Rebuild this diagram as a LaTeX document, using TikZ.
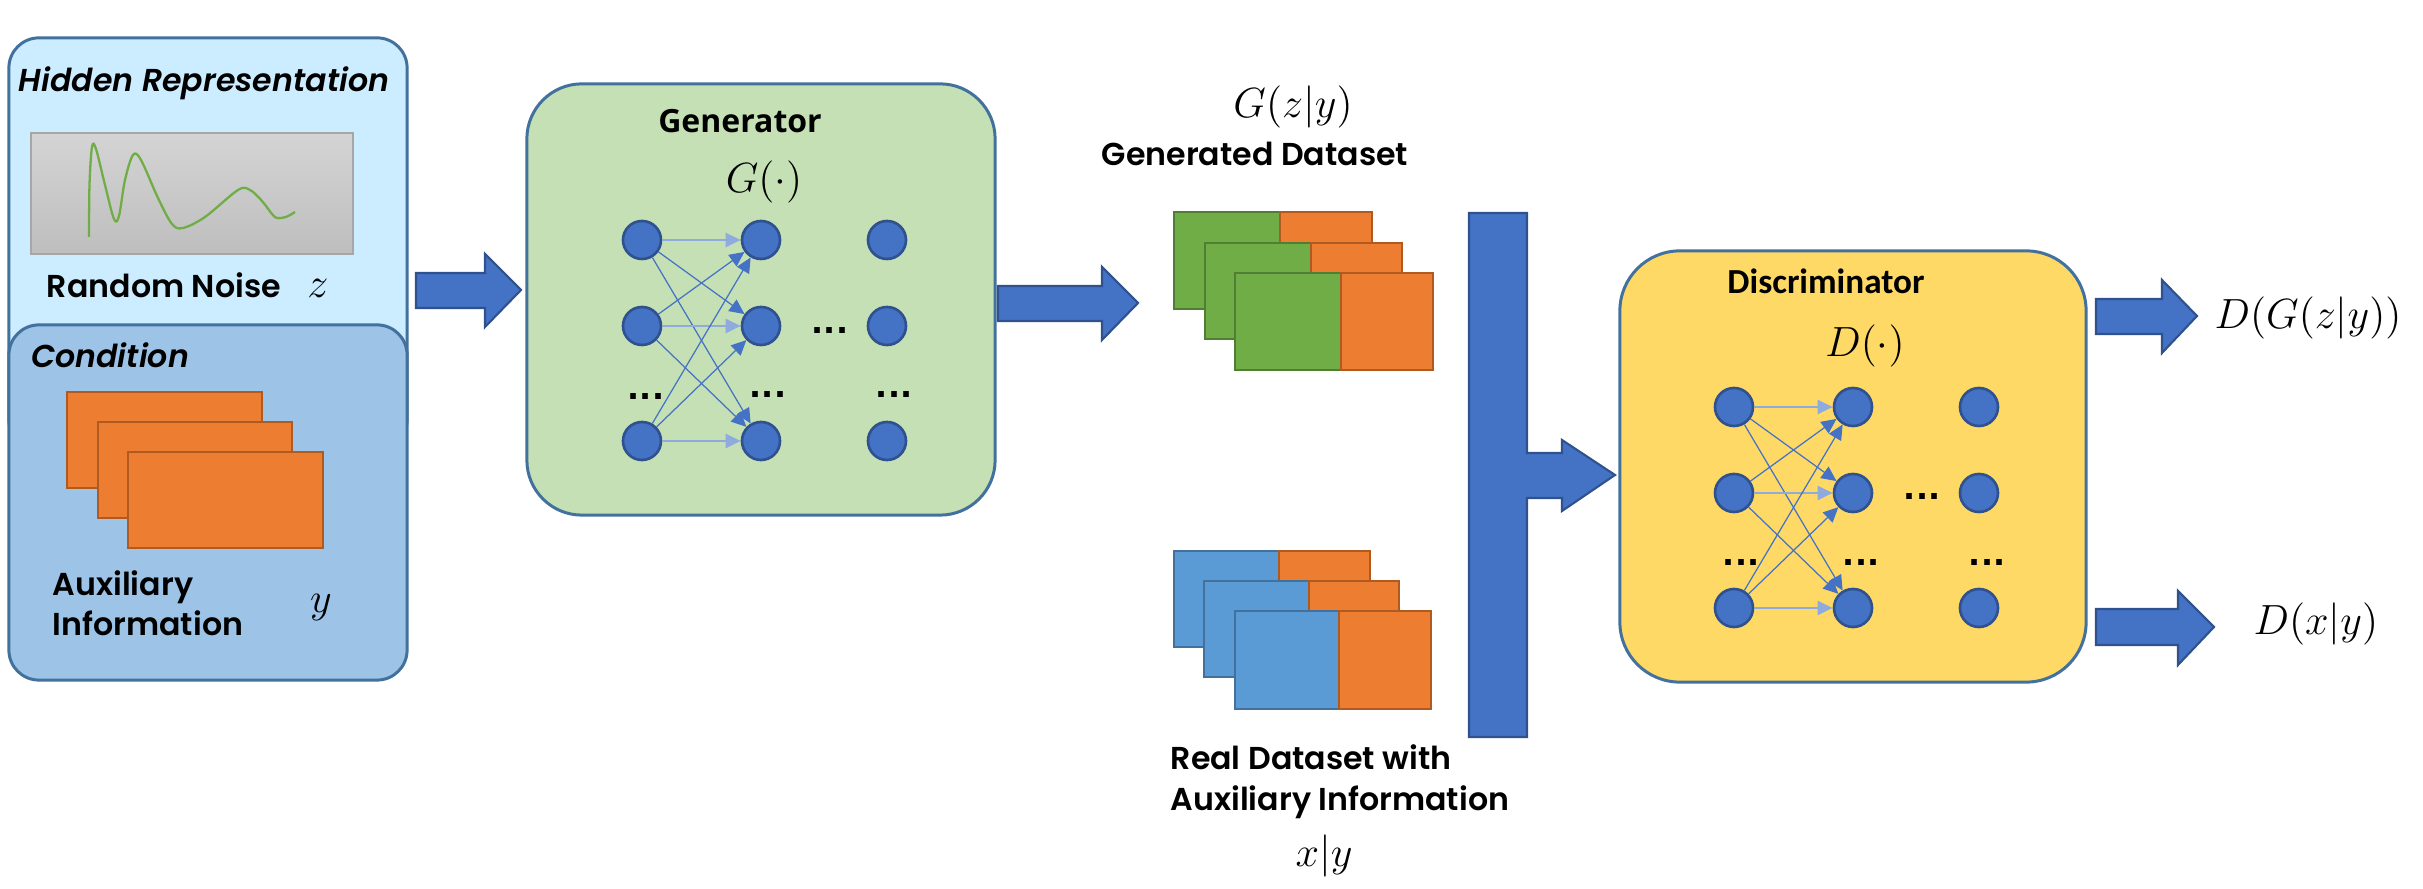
\documentclass[tikz,border=0pt]{standalone}
\usepackage{fontspec}
\usetikzlibrary{arrows.meta}
\newfontfamily\widefont{Poppins}[BoldFont={Poppins SemiBold}, BoldItalicFont={Poppins SemiBold Italic}]
\newfontfamily\opensfont{Open Sans}
\newfontfamily\carlfont{Carlito}
\newfontfamily\dotfont{DejaVu Sans}
\definecolor{hiddenfill}{HTML}{CCECFF}
\definecolor{condfill}{HTML}{9DC3E6}
\definecolor{boxline}{HTML}{41719C}
\definecolor{genfill}{HTML}{C5E0B4}
\definecolor{discfill}{HTML}{FFD966}
\definecolor{arrowfill}{HTML}{4472C4}
\definecolor{arrowline}{HTML}{2F528F}
\definecolor{orangefill}{HTML}{ED7D31}
\definecolor{orangeline}{HTML}{AE5A21}
\definecolor{greenfill}{HTML}{70AD47}
\definecolor{greenline}{HTML}{507E32}
\definecolor{bluefill}{HTML}{5B9BD5}
\definecolor{flatlink}{HTML}{8FAADC}
\tikzset{
  panel/.style={draw=boxline, line width=0.85pt, inner sep=0pt},
  neuron/.style={circle, minimum size=0.38cm, inner sep=0pt, fill=arrowfill, draw=arrowline, line width=0.75pt},
  link/.style={draw=arrowfill, line width=0.35pt, -{Triangle[length=0.15cm,width=0.14cm]}},
  linkflat/.style={draw=flatlink, line width=0.7pt},
  blockarrow/.style={fill=arrowfill, draw=arrowline, line width=0.6pt},
  orangebox/.style={fill=orangefill, draw=orangeline, line width=0.6pt},
  greenbox/.style={fill=greenfill, draw=greenline, line width=0.6pt},
  bluebox/.style={fill=bluefill, draw=boxline, line width=0.6pt},
  wlabel/.style={inner sep=0pt, anchor=base, font=\widefont\bfseries\fontsize{9}{11}\selectfont},
  ilabel/.style={inner sep=0pt, anchor=base, font=\widefont\bfseries\itshape\fontsize{9}{11}\selectfont},
  mlabel/.style={inner sep=0pt, anchor=base, font=\fontsize{11.5}{13}\selectfont},
  biglabel/.style={mlabel, font=\fontsize{12.5}{14}\selectfont},
  dots/.style={inner sep=0pt, font=\dotfont\bfseries\fontsize{9}{10}\selectfont}
}
\begin{document}
\begin{tikzpicture}[x=0.01cm, y=-0.01cm]
\useasboundingbox (0,0) rectangle (2423,889);
\node[panel, fill=hiddenfill, rounded corners=0.3cm, minimum width=3.98cm, minimum height=4.12cm] (hidden) at (208,244){};
\node[panel, fill=condfill, rounded corners=0.3cm, minimum width=3.98cm, minimum height=3.55cm] (cond) at (208,502.5){};
\node[ilabel] (hidtxt) at (204,92){Hidden Representation};
\node[draw={rgb,255:red,166;green,166;blue,166}, line width=0.5pt, top color={rgb,255:red,212;green,212;blue,212}, bottom color={rgb,255:red,190;green,190;blue,190}, minimum width=3.22cm, minimum height=1.21cm, inner sep=0pt] (noise) at (192,193.5){};
\draw[draw=greenfill, line width=0.65pt] plot[smooth, tension=0.55] coordinates {(89,237) (89.5,185) (92,147) (96,149) (105,185) (114,219) (119,216) (125,180) (133,155) (141,160) (158,198) (172,224) (183,228) (205,217) (238,190) (250,190) (262,201) (272,214) (277,218) (286,217) (295,212)};
\node[wlabel] (noisetxt) at (164,298){Random Noise};
\node[biglabel] (ztxt) at (318,298){$z$};
\node[ilabel] (condtxt) at (110,368){Condition};
\draw[orangebox] (67,392) rectangle (262,488);
\draw[orangebox] (98,422) rectangle (292,518);
\draw[orangebox] (128,452) rectangle (323,548);
\node[wlabel, anchor=base west] (auxtxt) at (52,596){Auxiliary};
\node[wlabel, anchor=base west] (infotxt) at (52,636){Information};
\node[biglabel] (ytxt) at (321,613){$y$};
\draw[blockarrow] (416,273) -- (485,273) -- (485,254) -- (521,290) -- (485,327) -- (485,308) -- (416,308) -- cycle;
\node[panel, fill=genfill, rounded corners=0.55cm, minimum width=4.68cm, minimum height=4.31cm] (gen) at (761,299.5){};
\node[inner sep=0pt, anchor=base, font=\opensfont\bfseries\fontsize{9.1}{11}\selectfont] (gentxt) at (740,133){Generator};
\node[mlabel] (gfun) at (764,193){$G(\cdot)$};
\node[neuron] (g11) at (642,240){};
\node[neuron] (g12) at (642,326){};
\node[neuron] (g13) at (642,441){};
\node[neuron] (g21) at (761,240){};
\node[neuron] (g22) at (761,326){};
\node[neuron] (g23) at (761,441){};
\node[neuron] (g31) at (887,240){};
\node[neuron] (g32) at (887,326){};
\node[neuron] (g33) at (887,441){};
\draw[link, linkflat](g11) -- (g21);
\draw[link](g11) -- (g22);
\draw[link](g11) -- (g23);
\draw[link](g12) -- (g21);
\draw[link, linkflat](g12) -- (g22);
\draw[link](g12) -- (g23);
\draw[link](g13) -- (g21);
\draw[link](g13) -- (g22);
\draw[link, linkflat](g13) -- (g23);
\node[dots] (gd1) at (646,397){...};
\node[dots] (gd2) at (768,395){...};
\node[dots] (gd3) at (894,395){...};
\node[dots] (gd4) at (830,331){...};
\draw[blockarrow] (998,286) -- (1102,286) -- (1102,267) -- (1138,303) -- (1102,340) -- (1102,321) -- (998,321) -- cycle;
\node[biglabel] (gzy) at (1293,118){$G(z|y)$};
\node[wlabel] (gentxt2) at (1255,166){Generated Dataset};
\draw[greenbox] (1174,212) rectangle (1280,309);
\draw[orangebox] (1280,212) rectangle (1372,309);
\draw[greenbox] (1205,243) rectangle (1311,339);
\draw[orangebox] (1311,243) rectangle (1402,339);
\draw[greenbox] (1235,273) rectangle (1341,370);
\draw[orangebox] (1341,273) rectangle (1433,370);
\draw[bluebox] (1174,551) rectangle (1279,647);
\draw[orangebox] (1279,551) rectangle (1370,647);
\draw[bluebox] (1204,581) rectangle (1309,677);
\draw[orangebox] (1309,581) rectangle (1399,677);
\draw[bluebox] (1235,611) rectangle (1339,709);
\draw[orangebox] (1339,611) rectangle (1431,709);
\node[wlabel, anchor=base west] (realtxt) at (1170,770){Real Dataset with};
\node[wlabel, anchor=base west] (realtxt2) at (1170,811){Auxiliary Information};
\node[biglabel] (xy) at (1324,867){$x|y$};
\draw[blockarrow] (1469,213) -- (1527,213) -- (1527,453) -- (1562,453) -- (1562,440) -- (1615,475) -- (1562,511) -- (1562,498) -- (1527,498) -- (1527,737) -- (1469,737) -- cycle;
\node[panel, fill=discfill, rounded corners=0.6cm, minimum width=4.66cm, minimum height=4.31cm] (disc) at (1853,466.5){};
\node[inner sep=0pt, anchor=base, font=\carlfont\bfseries\fontsize{10}{12}\selectfont] (disctxt) at (1826,294){Discriminator};
\node[mlabel] (dfun) at (1865,357){$D(\cdot)$};
\node[neuron] (d11) at (1734,407){};
\node[neuron] (d12) at (1734,493){};
\node[neuron] (d13) at (1734,608){};
\node[neuron] (d21) at (1853,407){};
\node[neuron] (d22) at (1853,493){};
\node[neuron] (d23) at (1853,608){};
\node[neuron] (d31) at (1979,407){};
\node[neuron] (d32) at (1979,493){};
\node[neuron] (d33) at (1979,608){};
\draw[link, linkflat](d11) -- (d21);
\draw[link](d11) -- (d22);
\draw[link](d11) -- (d23);
\draw[link](d12) -- (d21);
\draw[link, linkflat](d12) -- (d22);
\draw[link](d12) -- (d23);
\draw[link](d13) -- (d21);
\draw[link](d13) -- (d22);
\draw[link, linkflat](d13) -- (d23);
\node[dots] (dd1) at (1741,563){...};
\node[dots] (dd2) at (1861,563){...};
\node[dots] (dd3) at (1987,563){...};
\node[dots] (dd4) at (1922,497){...};
\draw[blockarrow] (2096,299) -- (2162,299) -- (2162,280) -- (2197,316) -- (2162,353) -- (2162,334) -- (2096,334) -- cycle;
\node[biglabel, anchor=base west] (dgzy) at (2214,329){$D(G(z|y))$};
\draw[blockarrow] (2096,609) -- (2178,609) -- (2178,591) -- (2214,627) -- (2178,665) -- (2178,645) -- (2096,645) -- cycle;
\node[biglabel, anchor=base west] (dxy) at (2253,635){$D(x|y)$};
\end{tikzpicture}
\end{document}
